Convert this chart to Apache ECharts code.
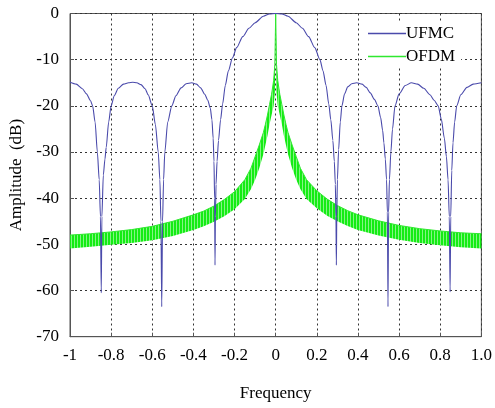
<!DOCTYPE html>
<html>
<head>
<meta charset="utf-8">
<script src="https://cdn.jsdelivr.net/npm/echarts@6/dist/echarts.min.js"></script>
<style>
html,body{margin:0;padding:0;background:#fff;}
#chart{width:495px;height:408px;}
</style>
</head>
<body>
<div id="chart"></div>
<script>
// ---- Data ----
const xTickLabels = ['-1','-0.8','-0.6','-0.4','-0.2','0','0.2','0.4','0.6','0.8','1.0'];
const yTickLabels = ['-70','-60','-50','-40','-30','-20','-10','0'];

// UFMC spectrum (frequency, dB)
const ufmcX = [-1,-0.97,-0.94,-0.92,-0.90,-0.89,-0.878,-0.867,-0.858,-0.852,-0.848,-0.845,-0.838,-0.83,-0.824,-0.812,-0.80,-0.785,-0.765,-0.74,-0.715,-0.695,-0.675,-0.655,-0.635,-0.62,-0.60,-0.585,-0.571,-0.563,-0.558,-0.554,-0.55,-0.545,-0.539,-0.525,-0.505,-0.485,-0.46,-0.435,-0.408,-0.385,-0.365,-0.345,-0.33,-0.318,-0.31,-0.304,-0.3,-0.297,-0.295,-0.293,-0.29,-0.285,-0.278,-0.268,-0.258,-0.245,-0.23,-0.21,-0.19,-0.16,-0.13,-0.1,-0.06,-0.03,0,
  0.03,0.06,0.1,0.13,0.16,0.19,0.215,0.23,0.245,0.258,0.268,0.278,0.285,0.29,0.293,0.295,0.297,0.3,0.306,0.314,0.322,0.335,0.35,0.37,0.394,0.42,0.44,0.46,0.48,0.497,0.51,0.52,0.526,0.533,0.539,0.543,0.546,0.549,0.553,0.56,0.568,0.58,0.6,0.63,0.66,0.69,0.72,0.75,0.77,0.79,0.805,0.82,0.83,0.838,0.844,0.848,0.851,0.856,0.862,0.87,0.88,0.9,0.93,0.96,1.0];
const ufmcY = [-14.9,-15.3,-16.3,-17.4,-18.9,-20,-23.5,-30,-36,-44,-60.5,-44,-35,-31.5,-29,-23.5,-20,-17.8,-16.2,-15.3,-15,-14.9,-15,-15.4,-16.3,-17.6,-20,-24,-30,-36,-45,-63.5,-45,-36,-30,-23.5,-20,-17.8,-16.1,-15.2,-15,-15.3,-16.1,-17.5,-18.8,-20.5,-23,-27,-32,-40,-54.5,-44,-37,-32,-27.5,-23,-19.6,-15.6,-12.4,-9.6,-7.4,-5.0,-3.2,-2.0,-0.6,-0.1,0,
  -0.1,-0.6,-2.0,-3.2,-5.0,-7.4,-10,-12.4,-15.6,-19.6,-23,-27.5,-32,-37,-44,-54.5,-44,-36,-29.5,-23.5,-20,-17.4,-15.9,-15.2,-15,-15.3,-16,-17.2,-18.6,-20,-22.5,-25.3,-28,-31.5,-36,-43,-63.5,-43,-36,-30,-25,-20,-17.4,-15.6,-15,-15.3,-16.2,-17.6,-18.8,-20,-22.8,-27,-31,-36,-44,-60.3,-44,-34,-28,-23.5,-20,-17.6,-16,-15.3,-15];

// OFDM spectrum: upper and lower envelope of the fast ripple (frequency, dB)
const ofdmX = [-1,-0.9,-0.8,-0.7,-0.6,-0.5,-0.4,-0.35,-0.3,-0.25,-0.2,-0.15,-0.12,-0.1,-0.08,-0.06,-0.05,-0.04,-0.03,-0.02,-0.01,-0.004,0,
  0.004,0.01,0.02,0.03,0.04,0.05,0.06,0.08,0.1,0.12,0.15,0.2,0.25,0.3,0.35,0.4,0.5,0.6,0.7,0.8,0.9,1.0];
const ofdmUpper = [-48.0,-47.7,-47.3,-46.8,-46.1,-45.0,-43.6,-42.8,-41.7,-40.3,-38.6,-36.0,-33.5,-31.0,-28.5,-25.8,-24.0,-22.0,-19.7,-17.5,-14.5,-11,0,
  -11,-14.5,-17.5,-19.7,-22.0,-24.0,-25.8,-28.5,-31.0,-33.5,-36.0,-38.4,-40.2,-41.6,-42.7,-43.6,-44.9,-45.9,-46.6,-47.1,-47.5,-47.7];
const ofdmLower = [-50.9,-50.5,-50.1,-49.7,-49.1,-48.2,-46.9,-46.1,-45.1,-43.9,-42.4,-40.2,-38.0,-36.0,-33.5,-30.5,-28.5,-26.5,-24.0,-22.0,-20.0,-17.0,0,
  -17.0,-20.0,-22.0,-24.0,-26.5,-28.5,-30.5,-33.5,-36.0,-38.0,-40.2,-42.2,-43.8,-45.0,-46.0,-46.9,-48.1,-49.0,-49.7,-50.2,-50.6,-50.9];

// ---- Chart ----
const FONT = "'Liberation Serif','Times New Roman',serif";
const ufmcData = ufmcX.map((x, i) => [x, ufmcY[i]]);
const ofdmUpperData = ofdmX.map((x, i) => [x, ofdmUpper[i]]);

// striped fill for the dense OFDM ripple
const pc = document.createElement('canvas');
pc.width = 3; pc.height = 2;
const pctx = pc.getContext('2d');
pctx.fillStyle = '#14ec14'; pctx.fillRect(0, 0, 2, 2);
pctx.fillStyle = '#84f484'; pctx.fillRect(2, 0, 1, 2);

const chart = echarts.init(document.getElementById('chart'), null, {renderer: 'canvas'});
chart.setOption({
  animation: false,
  backgroundColor: '#fff',
  grid: {left: 70, right: 9, top: 13.5, bottom: 71.3, show: true, borderColor: '#555', borderWidth: 1},
  legend: {
    orient: 'vertical', left: 366, top: 23,
    backgroundColor: '#fff', padding: [2, 6, 2, 2],
    itemWidth: 38, itemHeight: 1.5, itemGap: 6,
    data: [{name: 'UFMC', icon: 'rect'}, {name: 'OFDM', icon: 'rect'}],
    textStyle: {fontFamily: FONT, fontSize: 17, color: '#000', padding: [0, 0, 0, -5]}
  },
  xAxis: {
    type: 'value', min: -1, max: 1, interval: 0.2,
    name: 'Frequency', nameLocation: 'middle', nameGap: 48,
    nameTextStyle: {fontFamily: FONT, fontSize: 17, color: '#000'},
    axisLine: {onZero: false, lineStyle: {color: '#555', width: 1}},
    axisTick: {inside: true, length: 4, lineStyle: {color: '#555'}},
    axisLabel: {
      fontFamily: FONT, fontSize: 17, color: '#000', margin: 10,
      formatter: v => xTickLabels[Math.round((v + 1) / 0.2)]
    },
    splitLine: {show: true, lineStyle: {color: '#333', width: 1, type: [2, 3]}}
  },
  yAxis: {
    type: 'value', min: -70, max: 0, interval: 10,
    name: 'Amplitude  (dB)', nameLocation: 'middle', nameGap: 33,
    nameTextStyle: {fontFamily: FONT, fontSize: 17, color: '#000'},
    axisLine: {show: true, onZero: false, lineStyle: {color: '#555', width: 1}},
    axisTick: {show: true, inside: true, length: 4, lineStyle: {color: '#555'}},
    axisLabel: {
      fontFamily: FONT, fontSize: 17, color: '#000', margin: 11,
      formatter: v => yTickLabels[Math.round((v + 70) / 10)]
    },
    splitLine: {show: true, lineStyle: {color: '#333', width: 1, type: [2, 3]}}
  },
  series: [
    {
      type: 'custom', name: 'OFDM band', z: 2, silent: true,
      data: [[0, 0]],
      renderItem: function (params, api) {
        const pts = [];
        for (let i = 0; i < ofdmX.length; i++) pts.push(api.coord([ofdmX[i], ofdmUpper[i]]));
        for (let i = ofdmX.length - 1; i >= 0; i--) pts.push(api.coord([ofdmX[i], ofdmLower[i]]));
        return {type: 'polygon', shape: {points: pts}, style: {fill: {image: pc, repeat: 'repeat'}, stroke: null}};
      }
    },
    {
      type: 'line', name: 'OFDM', z: 3, data: ofdmUpperData, symbol: 'none',
      lineStyle: {color: '#2fe82f', width: 1}, itemStyle: {color: '#2fe82f'}
    },
    {
      type: 'line', name: 'UFMC', z: 4, data: ufmcData, symbol: 'none',
      smooth: 0.25, smoothMonotone: 'x',
      lineStyle: {color: '#4a4aab', width: 1.1}, itemStyle: {color: '#4a4aab'}
    }
  ]
});
</script>
</body>
</html>
